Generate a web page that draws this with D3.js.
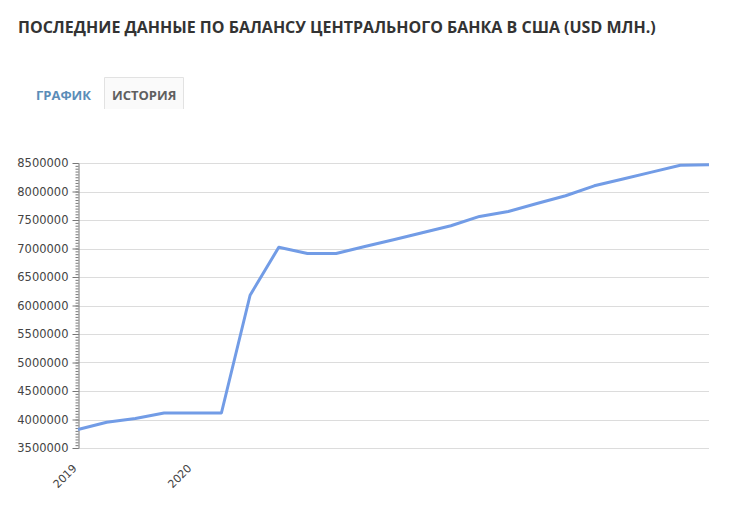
<!DOCTYPE html>
<html>
<head>
<meta charset="utf-8">
<script src="https://cdn.jsdelivr.net/npm/d3@7"></script>
<style>
  body { margin: 0; background: #fff; }
  svg { display: block; }
</style>
</head>
<body>
<script>
const w = 740;
const h = 505;

// balance sheet, USD mln
const labels = ["2019", "", "", "", "2020", "", "", "", "", "", "", "", "", "", "", "", "", "", "", "", "", "", ""];
const values = [3825000, 3953000, 4018000, 4114000, 4114000, 4114000, 6180000, 7022000, 6912000, 6912000,
  7035000, 7154000, 7277000, 7400000, 7563000, 7650000, 7790000, 7925000, 8100000, 8220000,
  8340000, 8460000, 8470000];
const yTicks = [3500000, 4000000, 4500000, 5000000, 5500000, 6000000, 6500000, 7000000, 7500000, 8000000, 8500000];

const pLeft = 78, pRight = 709, pTop = 163, pBottom = 448;

const svg = d3.select("body")
              .append("svg")
              .attr("width", w)
              .attr("height", h);

svg.append("text")
   .attr("x", 18)
   .attr("y", 33)
   .style("font-family", "'Open Sans'")
   .style("font-weight", "bold")
   .style("font-size", "16px")
   .style("fill", "#333")
   .text("ПОСЛЕДНИЕ ДАННЫЕ ПО БАЛАНСУ ЦЕНТРАЛЬНОГО БАНКА В США (USD МЛН.)");

// tabs
svg.append("path")
   .attr("d", "M104.5,109 V77.5 H183.5 V109")
   .style("fill", "#fafafa")
   .style("stroke", "#e2e2e2");
svg.append("text")
   .attr("x", 36).attr("y", 100)
   .style("font-family", "'Open Sans'").style("font-weight", "bold").style("font-size", "13px")
   .style("fill", "#5b8db8")
   .text("ГРАФИК");
svg.append("text")
   .attr("x", 112).attr("y", 100)
   .style("font-family", "'Open Sans'").style("font-weight", "bold").style("font-size", "13px")
   .style("fill", "#5f5f5f")
   .text("ИСТОРИЯ");

const x = d3.scalePoint()
            .domain(d3.range(values.length))
            .range([pLeft, pRight]);

const y = d3.scaleLinear()
            .domain([3500000, 8500000])
            .range([pBottom, pTop]);

// grid
svg.append("g")
   .selectAll("line")
   .data(yTicks)
   .enter()
   .append("line")
   .attr("x1", pLeft)
   .attr("x2", pRight)
   .attr("y1", (d) => Math.round(y(d)) + 0.5)
   .attr("y2", (d) => Math.round(y(d)) + 0.5)
   .style("stroke", "#dcdcdc");

// minor ticks
svg.append("g")
   .attr("transform", `translate(${pLeft + 0.5},0)`)
   .call(d3.axisLeft(y).tickValues(d3.range(3500000, 8500001, 50000)).tickSize(3).tickFormat(""))
   .call((g) => g.select(".domain").remove())
   .selectAll("line").style("stroke", "#777");

// major ticks + labels
const yAxis = svg.append("g")
   .attr("transform", `translate(${pLeft + 0.5},0)`)
   .call(d3.axisLeft(y).tickValues(yTicks).tickSize(6).tickSizeOuter(0).tickPadding(4).tickFormat(d3.format("d")));
yAxis.select(".domain").style("stroke", "#777");
yAxis.selectAll("line").style("stroke", "#777");
yAxis.selectAll("text")
     .style("font-family", "'DejaVu Sans'")
     .style("font-size", "11.5px")
     .style("fill", "#444");

// x labels
const xAxis = svg.append("g")
   .attr("transform", `translate(0,${pBottom})`)
   .call(d3.axisBottom(x).tickSize(0).tickFormat((i) => labels[i]));
xAxis.select(".domain").remove();
xAxis.selectAll("text")
     .attr("y", 0)
     .attr("dy", 0)
     .attr("text-anchor", "end")
     .attr("transform", "translate(-1,21) rotate(-45)")
     .style("font-family", "'DejaVu Sans'")
     .style("font-size", "11px")
     .style("fill", "#444");

const line = d3.line()
               .x((d, i) => x(i))
               .y((d) => y(d));

svg.append("path")
   .datum(values)
   .attr("d", line)
   .style("fill", "none")
   .style("stroke", "#729ce6")
   .style("stroke-width", 3)
   .style("stroke-linejoin", "round");
</script>
</body>
</html>
